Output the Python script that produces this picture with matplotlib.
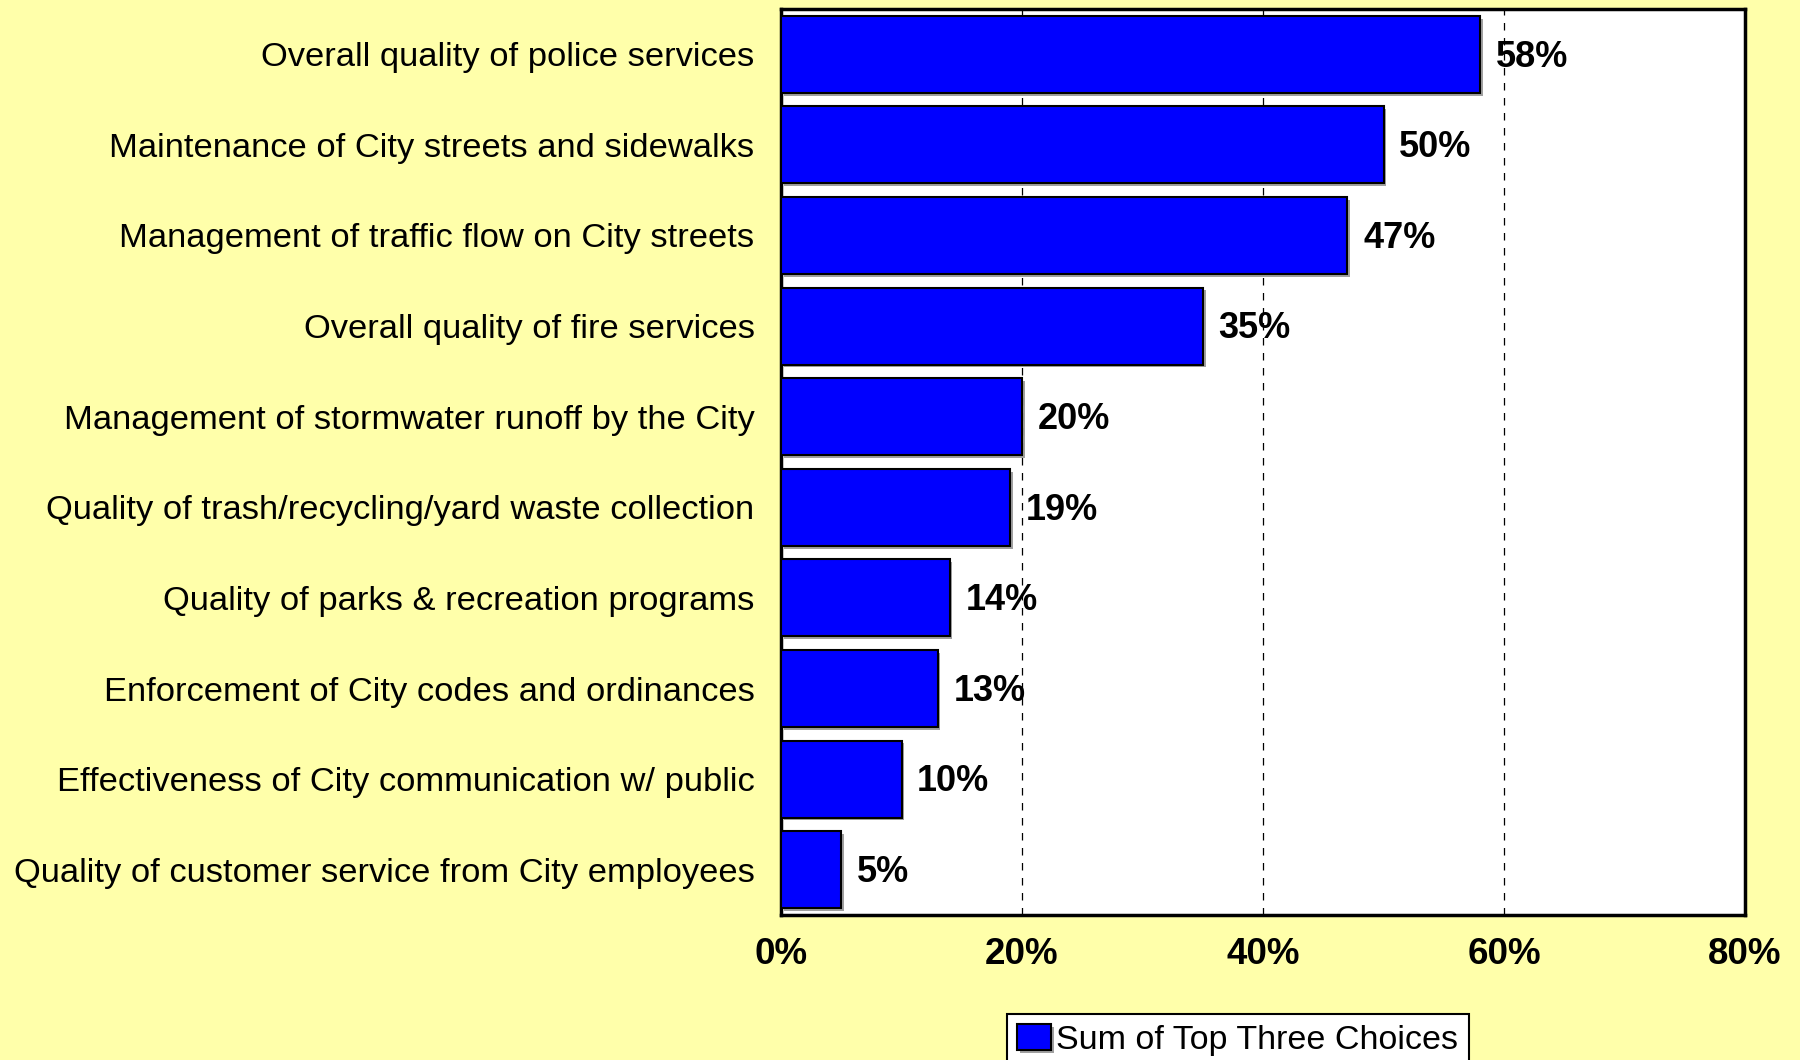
import matplotlib.pyplot as plt
import matplotlib.patheffects as pe
from matplotlib.ticker import FuncFormatter

categories = [
    "Overall quality of police services",
    "Maintenance of City streets and sidewalks",
    "Management of traffic flow on City streets",
    "Overall quality of fire services",
    "Management of stormwater runoff by the City",
    "Quality of trash/recycling/yard waste collection",
    "Quality of parks & recreation programs",
    "Enforcement of City codes and ordinances",
    "Effectiveness of City communication w/ public",
    "Quality of customer service from City employees",
]
values = [58, 50, 47, 35, 20, 19, 14, 13, 10, 5]
series_name = "Sum of Top Three Choices"

plt.rcParams['font.family'] = ['Liberation Sans', 'DejaVu Sans']

fig = plt.figure(figsize=(18, 10.6), dpi=100)
fig.patch.set_facecolor('#FFFFAA')
ax = fig.add_axes([781 / 1800, 1 - 915 / 1060, (1745 - 781) / 1800, (915 - 9) / 1060])
ax.set_facecolor('white')

pos = list(range(len(categories)))
bars = ax.barh(pos, values, height=0.85, color='#0000FF', edgecolor='black',
               linewidth=1.5, label=series_name, zorder=3)
for b in bars:
    b.set_path_effects([pe.SimplePatchShadow(offset=(2, -2), shadow_rgbFace='#888888', alpha=0.8),
                        pe.Normal()])

# value labels just right of each bar
for p, v in zip(pos, values):
    ax.text(v + 1.3, p + 0.03, f"{v}%", va='center', ha='left', fontsize=26,
            fontweight='bold', zorder=4)

ax.set_xlim(0, 80)
ax.set_ylim(len(categories) - 0.5, -0.5)
ax.set_xticks([0, 20, 40, 60, 80])
ax.xaxis.set_major_formatter(FuncFormatter(lambda x, _: f"{x:.0f}%"))
ax.set_yticks(pos)
ax.set_yticklabels(categories, fontsize=24.8)
ax.tick_params(axis='y', length=0, pad=19)
ax.tick_params(axis='x', length=0, pad=16, labelsize=26.5)
for lbl in ax.get_xticklabels():
    lbl.set_fontweight('bold')

ax.grid(axis='x', color='black', linestyle=(0, (6, 6)), linewidth=0.9, zorder=1)
for s in ax.spines.values():
    s.set_linewidth(2.5)
    s.set_color('black')

leg = fig.legend(loc='upper left', bbox_to_anchor=(1007 / 1800, 1 - 1014 / 1060),
                 fontsize=24.5, frameon=True, fancybox=False, shadow=False,
                 handlelength=1.0, handleheight=0.8, handletextpad=0.15,
                 borderpad=0.3, borderaxespad=0)
leg.get_frame().set_edgecolor('black')
leg.get_frame().set_linewidth(1.5)
leg.get_frame().set_facecolor('white')
leg.get_frame().set_alpha(1)

fig.savefig("out.png", dpi=100, facecolor=fig.get_facecolor())
